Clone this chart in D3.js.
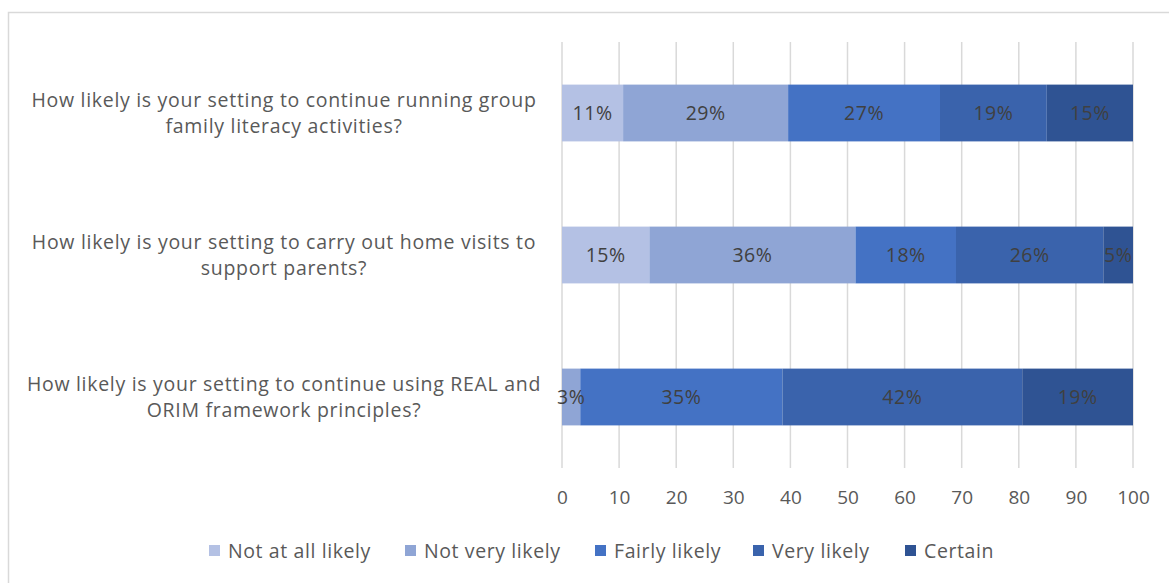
<!DOCTYPE html>
<html><head><meta charset="utf-8">
<script src="https://cdn.jsdelivr.net/npm/d3@7"></script>
<style>
html,body{margin:0;padding:0;background:#fff;}
svg{display:block;font-family:"Open Sans",sans-serif;}
</style></head>
<body><svg id="c" width="1169" height="583"></svg>
<script>
const questions = [
  ["How likely is your setting to continue running group", "family literacy activities?"],
  ["How likely is your setting to carry out home visits to", "support parents?"],
  ["How likely is your setting to continue using REAL and", "ORIM framework principles?"]
];
const seriesNames = ["Not at all likely", "Not very likely", "Fairly likely", "Very likely", "Certain"];
const notAtAll   = [10.7, 15.3, 0];
const notVery    = [28.9, 36.1, 3.2];
const fairly     = [26.6, 17.6, 35.4];
const very       = [18.7, 25.8, 42.0];
const certain    = [15.1, 5.2, 19.4];
const tickValues = [0,10,20,30,40,50,60,70,80,90,100];
const colors = ["#B4C1E4", "#8FA5D5", "#4472C4", "#3A63AC", "#2F5393"];

const seriesVals = [notAtAll, notVery, fairly, very, certain];
const rows = questions.map((q,i)=>{
  const o = {q:i};
  seriesNames.forEach((s,j)=>o[s]=seriesVals[j][i]);
  return o;
});
const stack = d3.stack().keys(seriesNames)(rows);

const svg = d3.select("#c");
svg.append("rect").attr("x",8.5).attr("y",12.5).attr("width",1180).attr("height",600)
  .attr("fill","#fff").attr("stroke","#d9d9d9").attr("stroke-width",1.5);

const x = d3.scaleLinear().domain([0,100]).range([562,1133]);
const y = d3.scaleBand().domain(d3.range(questions.length)).range([42,468]).paddingInner(0.6).paddingOuter(0.3);

// gridlines
svg.append("g").selectAll("line").data(tickValues).join("line")
  .attr("x1",d=>x(d)).attr("x2",d=>x(d)).attr("y1",42).attr("y2",468)
  .attr("stroke","#d9d9d9").attr("stroke-width",1.5);

// bars
const g = svg.append("g");
stack.forEach((layer,j)=>{
  g.append("g").selectAll("rect").data(layer).join("rect")
    .attr("x",d=>x(d[0])).attr("width",d=>x(d[1])-x(d[0]))
    .attr("y",(d,i)=>y(i)).attr("height",y.bandwidth())
    .attr("fill",colors[j]);
});
// data labels
stack.forEach((layer,j)=>{
  g.append("g").selectAll("text").data(layer.filter(d=>d[1]-d[0]>0)).join("text")
    .attr("x",d=>(x(d[0])+x(d[1]))/2)
    .attr("y",d=>y(d.data.q)+y.bandwidth()/2)
    .attr("dy","0.35em").attr("text-anchor","middle")
    .attr("font-size",19.5).attr("letter-spacing","0.5px").attr("fill","#404040")
    .text(d=>Math.round(d[1]-d[0])+"%");
});

// category labels
const lab = svg.append("g");
questions.forEach((q,i)=>{
  const cy = y(i)+y.bandwidth()/2;
  q.forEach((line,k)=>{
    lab.append("text").attr("x",284).attr("y",cy - 13 + k*26)
      .attr("dy","0.35em").attr("text-anchor","middle")
      .attr("font-size",19.5).attr("letter-spacing","0.7px").attr("fill","#595959").text(line);
  });
});

// x axis
const ax = svg.append("g").attr("transform","translate(0,490)")
  .call(d3.axisBottom(x).tickValues(tickValues).tickSize(0).tickPadding(0));
ax.select(".domain").remove();
ax.selectAll("text").attr("font-size",19).attr("fill","#595959")
  .attr("font-family","Open Sans, sans-serif").attr("dy","0.71em");

// legend
const lg = svg.append("g").attr("transform","translate(0,551)");
const lx = [209,405,595,753,905];
seriesNames.forEach((s,j)=>{
  lg.append("rect").attr("x",lx[j]).attr("y",-6).attr("width",11).attr("height",11).attr("fill",colors[j]);
  lg.append("text").attr("x",lx[j]+19).attr("y",0).attr("dy","0.35em")
    .attr("font-size",19.5).attr("letter-spacing","0.6px").attr("fill","#595959").text(s);
});
</script></body></html>
